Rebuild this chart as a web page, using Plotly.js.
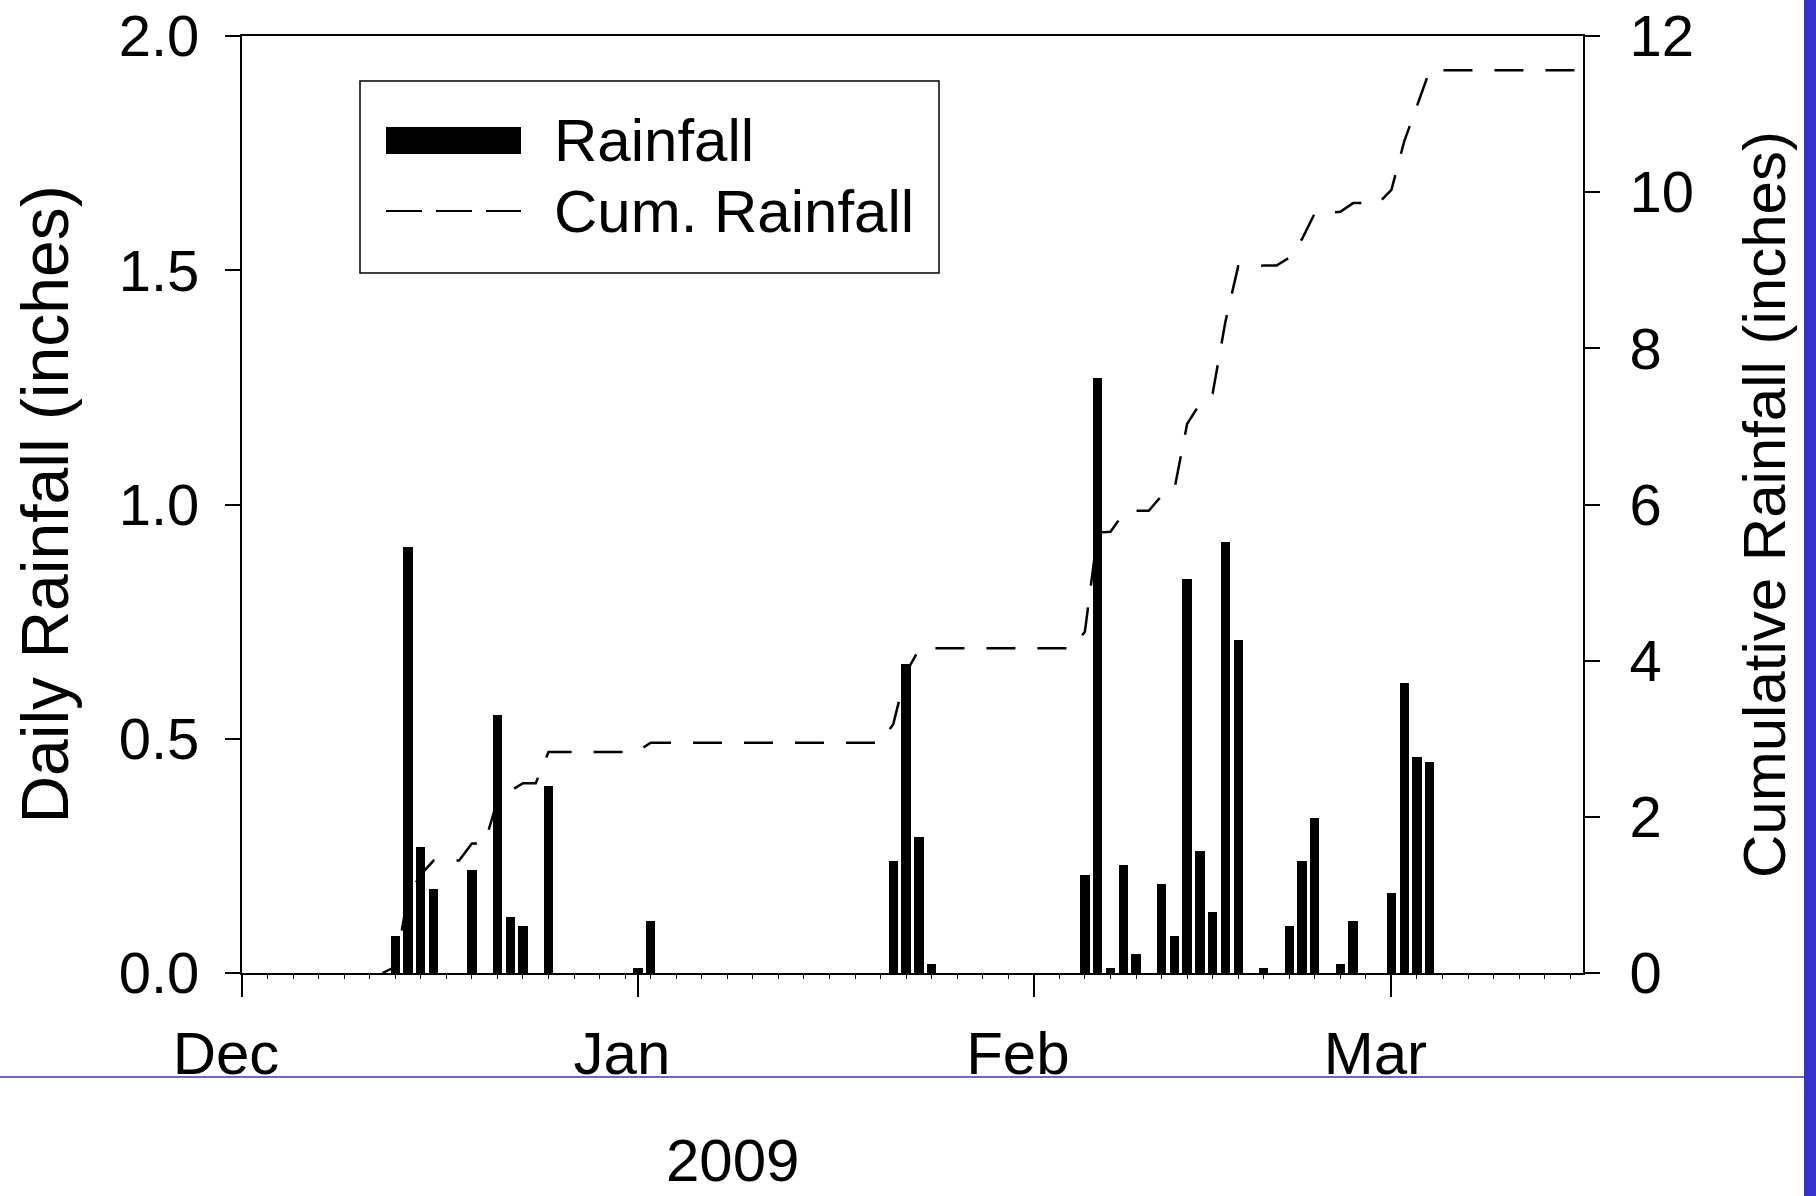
<!DOCTYPE html>
<html>
<head>
<meta charset="utf-8">
<script src="https://cdn.plot.ly/plotly-3.0.1.min.js"></script>
<style>
html,body{margin:0;padding:0;background:#ffffff;}
#chart{width:1816px;height:1196px;}
</style>
</head>
<body>
<div id="chart"></div>
<script>
// ---- Data ----
const rainDates = [
  '2008-12-13','2008-12-14','2008-12-15','2008-12-16','2008-12-19','2008-12-21','2008-12-22','2008-12-23','2008-12-25',
  '2009-01-01','2009-01-02','2009-01-21','2009-01-22','2009-01-23','2009-01-24',
  '2009-02-05','2009-02-06','2009-02-07','2009-02-08','2009-02-09','2009-02-11','2009-02-12','2009-02-13','2009-02-14',
  '2009-02-15','2009-02-16','2009-02-17','2009-02-19','2009-02-21','2009-02-22','2009-02-23','2009-02-25','2009-02-26',
  '2009-03-01','2009-03-02','2009-03-03','2009-03-04'
];
const rainValues = [
  0.08,0.91,0.27,0.18,0.22,0.55,0.12,0.10,0.40,
  0.01,0.11,0.24,0.66,0.29,0.02,
  0.21,1.27,0.01,0.23,0.04,0.19,0.08,0.84,0.26,
  0.13,0.92,0.71,0.01,0.10,0.24,0.33,0.02,0.11,
  0.17,0.62,0.46,0.45
];
const cumDates = [
  '2008-12-12','2008-12-13','2008-12-14','2008-12-15','2008-12-16','2008-12-18','2008-12-19','2008-12-20',
  '2008-12-21','2008-12-22','2008-12-23','2008-12-24','2008-12-25','2008-12-31','2009-01-01','2009-01-02','2009-01-20',
  '2009-01-21','2009-01-22','2009-01-23','2009-01-24','2009-02-04','2009-02-05','2009-02-06','2009-02-07','2009-02-08',
  '2009-02-09','2009-02-10','2009-02-11','2009-02-12','2009-02-13','2009-02-14','2009-02-15','2009-02-16','2009-02-17',
  '2009-02-18','2009-02-19','2009-02-20','2009-02-21','2009-02-22','2009-02-23','2009-02-24','2009-02-25','2009-02-26',
  '2009-02-28','2009-03-01','2009-03-02','2009-03-03','2009-03-04','2009-03-16'
];
const cumValues = [
  0,0.08,0.99,1.26,1.44,1.44,1.66,1.66,
  2.21,2.33,2.43,2.43,2.83,2.83,2.84,2.95,2.95,
  3.19,3.85,4.14,4.16,4.16,4.37,5.64,5.65,5.88,
  5.92,5.92,6.11,6.19,7.03,7.29,7.42,8.34,9.05,
  9.05,9.06,9.06,9.16,9.40,9.73,9.73,9.75,9.86,
  9.86,10.03,10.65,11.11,11.56,11.56
];
const monthTickDates = ['2008-12-01','2009-01-01','2009-02-01','2009-03-01'];
const monthTickLabels = ['Dec','Jan','Feb','Mar'];
const leftTickValues = [0,0.5,1.0,1.5,2.0];
const rightTickValues = [0,2,4,6,8,10,12];
const seriesNames = ['Rainfall','Cum. Rainfall'];
const yearLabel = '2009';
const leftTitle = 'Daily Rainfall (inches)';
const rightTitle = 'Cumulative Rainfall (inches)';

// ---- Geometry helpers (pixel -> paper for decorations) ----
const W = 1816, H = 1196;
const M = {l:242, r:233, t:36, b:223};
const PW = W - M.l - M.r, PH = H - M.t - M.b;
const px = X => (X - M.l) / PW;
const py = Y => (H - M.b - Y) / PH;

const FONT = 'Liberation Sans, Arial, Helvetica, sans-serif';
const DAY = 86400000;

const traces = [
  {
    type:'bar', name:seriesNames[0], x:rainDates, y:rainValues,
    width:rainDates.map(()=>0.73*DAY),
    marker:{color:'#000000', line:{width:0}},
    yaxis:'y', showlegend:false, hoverinfo:'x+y'
  },
  {
    type:'scatter', mode:'lines', name:seriesNames[1], x:cumDates, y:cumValues,
    line:{color:'#000000', width:2.5, dash:'29px,22px'},
    yaxis:'y2', showlegend:false, hoverinfo:'x+y'
  }
];

const layout = {
  width:W, height:H,
  margin:{l:M.l, r:M.r, t:M.t, b:M.b, pad:0},
  paper_bgcolor:'#ffffff', plot_bgcolor:'#ffffff',
  font:{family:FONT, color:'#000000'},
  showlegend:false,
  bargap:0,
  xaxis:{
    type:'date', range:['2008-12-01','2009-03-16'],
    tickmode:'array', tickvals:monthTickDates, ticktext:monthTickLabels,
    ticks:'outside', ticklen:22, tickwidth:2, tickcolor:'#000000',
    ticklabelshift:-16, ticklabelstandoff:5,
    tickfont:{family:FONT, size:60, color:'#000000'},
    showline:true, linewidth:2, linecolor:'#000000', mirror:true,
    showgrid:false, zeroline:false,
    minor:{tick0:'2008-12-01', dtick:2*DAY, ticks:'outside', ticklen:4, tickwidth:1, tickcolor:'#000000', showgrid:false}
  },
  yaxis:{
    range:[0,2], tickmode:'array', tickvals:leftTickValues, tickformat:'.1f',
    ticks:'outside', ticklen:15, tickwidth:2, tickcolor:'#000000',
    ticklabelstandoff:14,
    tickfont:{family:FONT, size:58, color:'#000000'},
    showline:true, linewidth:2, linecolor:'#000000',
    showgrid:false, zeroline:false,
    title:{text:leftTitle, font:{family:FONT, size:66, color:'#000000'}, standoff:29}
  },
  yaxis2:{
    range:[0,12], overlaying:'y', side:'right',
    tickmode:'array', tickvals:rightTickValues,
    ticks:'outside', ticklen:15, tickwidth:2, tickcolor:'#000000',
    ticklabelstandoff:18,
    tickfont:{family:FONT, size:58, color:'#000000'},
    showline:true, linewidth:2, linecolor:'#000000',
    showgrid:false, zeroline:false,
    title:{text:rightTitle, font:{family:FONT, size:60, color:'#000000'}, standoff:50}
  },
  shapes:[
    // legend box
    {type:'rect', xref:'paper', yref:'paper', x0:px(360), x1:px(939), y0:py(273), y1:py(81),
     line:{color:'#000000', width:1.5}, fillcolor:'#ffffff', layer:'above'},
    // legend bar symbol
    {type:'rect', xref:'paper', yref:'paper', x0:px(386), x1:px(521), y0:py(154), y1:py(127),
     line:{width:0}, fillcolor:'#000000', layer:'above'},
    // legend dashed line symbol
    {type:'line', xref:'paper', yref:'paper', x0:px(386), x1:px(521), y0:py(211), y1:py(211),
     line:{color:'#000000', width:2, dash:'36px,14px'}, layer:'above'},
    // slide decoration: blue horizontal rule
    {type:'line', xref:'paper', yref:'paper', x0:px(0), x1:px(1804), y0:py(1077), y1:py(1077),
     line:{color:'#3333cc', width:1.5}, layer:'above'},
    // slide decoration: blue right band
    {type:'rect', xref:'paper', yref:'paper', x0:px(1804), x1:px(1820), y0:py(1200), y1:py(-4),
     line:{width:0}, fillcolor:'#3333cc', layer:'above'}
  ],
  annotations:[
    {xref:'paper', yref:'paper', x:px(552), y:py(140), xanchor:'left', yanchor:'middle',
     text:seriesNames[0], showarrow:false, font:{family:FONT, size:60, color:'#000000'}},
    {xref:'paper', yref:'paper', x:px(552), y:py(211), xanchor:'left', yanchor:'middle',
     text:seriesNames[1], showarrow:false, font:{family:FONT, size:60, color:'#000000'}},
    {xref:'paper', yref:'paper', x:px(732), y:py(1160), xanchor:'center', yanchor:'middle',
     text:yearLabel, showarrow:false, font:{family:FONT, size:60, color:'#000000'}}
  ]
};

Plotly.newPlot('chart', traces, layout, {displayModeBar:false, staticPlot:true});
</script>
</body>
</html>
